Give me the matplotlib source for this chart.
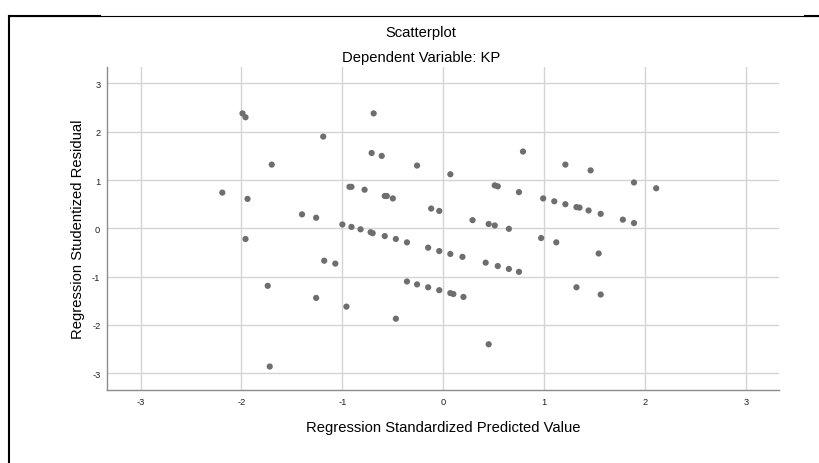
"""
SPSS-style residual scatterplot: Dependent Variable KP
"""

import matplotlib.pyplot as plt
from matplotlib.lines import Line2D

plt.rcParams["font.family"] = ["Liberation Sans", "DejaVu Sans"]
plt.rcParams["axes.unicode_minus"] = False

# standardized predicted value (x) and studentized residual (y)
pred = [
    -2.19, -1.99, -1.96, -1.94, -1.70, -1.19, -1.40, -1.26, -1.00, -0.93,
    -1.96, -1.18, -1.07, -1.74, -1.26, -0.96, -1.72,
    -0.69, -0.71, -0.61, -0.26, 0.07, 0.79, 1.21,
    -0.91, -0.78, -0.58, -0.56, -0.50, -0.12, -0.04, 0.51, 0.54, 0.75,
    0.99, 1.10, 1.21, 1.32, 1.35, 1.44, 1.56, 1.78, 1.89,
    -0.91, -0.82, 0.29, 0.45, 0.51, 0.65,
    -0.72, -0.70, -0.58, -0.47, -0.36, -0.15, -0.04, 0.07, 0.19,
    0.97, 1.12, 0.42, 0.54, 0.65, 0.75,
    -0.36, -0.26, -0.15, -0.04, 0.07, 0.10, 0.20,
    -0.47, 0.45, 1.32, 1.46, 1.89, 2.11, 1.54, 1.56,
]
resid = [
    0.74, 2.38, 2.30, 0.61, 1.32, 1.90, 0.29, 0.22, 0.08, 0.86,
    -0.22, -0.67, -0.73, -1.19, -1.44, -1.62, -2.86,
    2.38, 1.56, 1.50, 1.30, 1.12, 1.59, 1.32,
    0.86, 0.80, 0.67, 0.67, 0.62, 0.41, 0.36, 0.89, 0.87, 0.75,
    0.62, 0.56, 0.50, 0.44, 0.43, 0.37, 0.30, 0.18, 0.11,
    0.03, -0.02, 0.17, 0.09, 0.06, -0.01,
    -0.08, -0.10, -0.16, -0.22, -0.29, -0.40, -0.47, -0.53, -0.59,
    -0.20, -0.29, -0.71, -0.78, -0.84, -0.90,
    -1.10, -1.16, -1.22, -1.28, -1.34, -1.36, -1.42,
    -1.87, -2.40, -1.22, 1.20, 0.95, 0.83, -0.52, -1.37,
]
ticks = [-3, -2, -1, 0, 1, 2, 3]


def main():
    fig = plt.figure(figsize=(8.19, 4.64), dpi=100)
    ax = fig.add_axes([0.131, 0.158, 0.8205, 0.6954])

    ax.scatter(pred, resid, s=20, color="#6e6e6e", edgecolors="none", zorder=3)

    ax.set_xlim(-3.33, 3.33)
    ax.set_ylim(-3.34, 3.34)
    ax.set_xticks(ticks)
    ax.set_yticks(ticks)
    ax.tick_params(length=0, labelsize=6.7, pad=5, colors="#222222")
    ax.grid(True, color="#d4d4d4", linewidth=1.0, zorder=0)
    for side in ("top", "right"):
        ax.spines[side].set_visible(False)
    for side in ("left", "bottom"):
        ax.spines[side].set_color("#8c8c8c")
        ax.spines[side].set_linewidth(1.0)

    ax.set_xlabel("Regression Standardized Predicted Value", fontsize=10.6,
                  labelpad=10)
    ax.set_ylabel("Regression Studentized Residual", fontsize=10.6,
                  labelpad=5)

    fig.text(421 / 819, 1 - 36.7 / 464, "Scatterplot", ha="center",
             va="baseline", fontsize=10.6)
    fig.text(421 / 819, 1 - 62.3 / 464, "Dependent Variable: KP", ha="center",
             va="baseline", fontsize=10.6)

    # outer frame like the SPSS output window
    yt = 1 - 17 / 464
    xl = 9 / 819
    fig.add_artist(Line2D([xl, xl], [0, yt], color="black", linewidth=1.5))
    fig.add_artist(Line2D([xl, 1], [yt, yt], color="black", linewidth=0.8))
    fig.add_artist(Line2D([xl, 100 / 819], [yt, yt], color="black", linewidth=1.5))
    fig.add_artist(Line2D([805 / 819, 1], [yt, yt], color="black", linewidth=1.5))

    fig.savefig("out.png", dpi=100)
    plt.close(fig)


if __name__ == "__main__":
    main()
